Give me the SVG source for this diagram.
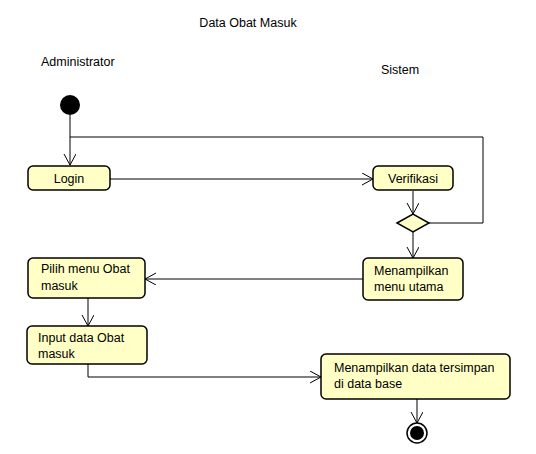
<svg xmlns="http://www.w3.org/2000/svg" width="536" height="454" viewBox="0 0 536 454">
<style>
text{font-family:"Liberation Sans",Arial,sans-serif;font-size:12.5px;fill:#000}
.act{fill:#ffffc6;stroke:#000;stroke-width:1.5}
.ln{fill:none;stroke:#000;stroke-width:1}
</style>
<defs>
<marker id="arr" markerWidth="14" markerHeight="14" refX="12" refY="6" orient="auto" markerUnits="userSpaceOnUse">
<path d="M1,0 L12,6 L1,12" fill="none" stroke="#000" stroke-width="1"/>
</marker>
</defs>
<rect width="536" height="454" fill="#fff"/>
<text x="248" y="27" text-anchor="middle">Data Obat Masuk</text>
<text x="41" y="66">Administrator</text>
<text x="381" y="74">Sistem</text>
<g id="connectors">
<path class="ln" d="M70,115 V165" marker-end="url(#arr)"/>
<path class="ln" d="M429,223 H483 V137 H70"/>
<path class="ln" d="M110,179 H373" marker-end="url(#arr)"/>
<path class="ln" d="M413,191 V214" marker-end="url(#arr)"/>
<path class="ln" d="M413,232 V258" marker-end="url(#arr)"/>
<path class="ln" d="M363,279 H145" marker-end="url(#arr)"/>
<path class="ln" d="M88,298 V326" marker-end="url(#arr)"/>
<path class="ln" d="M88,364 V377 H321" marker-end="url(#arr)"/>
<path class="ln" d="M417,399 V423" marker-end="url(#arr)"/>
</g>
<g id="start"><circle cx="70" cy="105" r="10" fill="#000"/></g>
<g id="login"><rect class="act" x="28" y="166" width="82" height="24" rx="5"/><text x="69" y="183" text-anchor="middle">Login</text></g>
<g id="verifikasi"><rect class="act" x="373" y="166" width="80" height="24" rx="5"/><text x="413" y="183" text-anchor="middle">Verifikasi</text></g>
<g id="decision"><polygon points="397,223 413,214 429,223 413,232" class="act"/></g>
<g id="menu-utama"><rect class="act" x="363" y="258" width="100" height="42" rx="5"/><text x="374" y="275">Menampilkan</text><text x="374" y="291">menu utama</text></g>
<g id="pilih-menu"><rect class="act" x="28" y="258" width="117" height="40" rx="5"/><text x="41" y="273">Pilih menu Obat</text><text x="41" y="290">masuk</text></g>
<g id="input-data"><rect class="act" x="27" y="326" width="120" height="38" rx="5"/><text x="38" y="342">Input data Obat</text><text x="38" y="358">masuk</text></g>
<g id="tampil-data"><rect class="act" x="321" y="354" width="189" height="45" rx="5"/><text x="334" y="372">Menampilkan data tersimpan</text><text x="334" y="388">di data base</text></g>
<g id="end"><circle cx="417" cy="433" r="10" fill="#fff" stroke="#000" stroke-width="1.5"/><circle cx="417" cy="433" r="7" fill="#000"/></g>
</svg>
